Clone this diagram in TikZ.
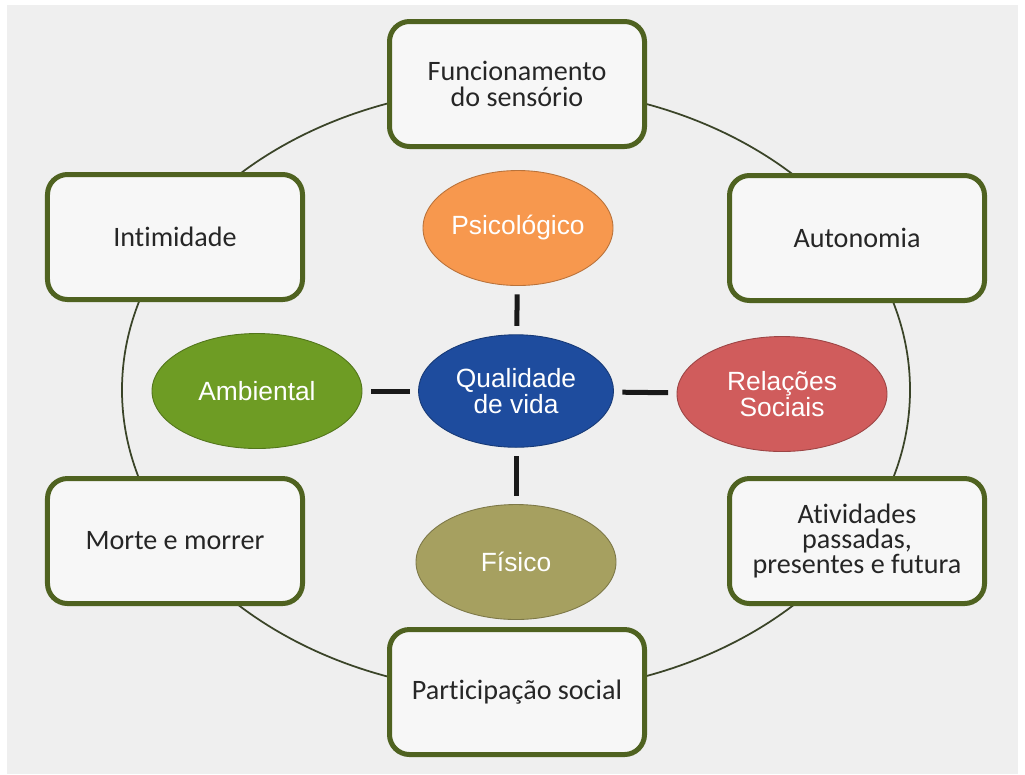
\documentclass[tikz,border=0pt]{standalone}
\usepackage{fontspec}
\setmainfont{Carlito}[Ligatures = NoCommon]
\newfontfamily\arialfont{Liberation Sans}
\usepackage{tikz}

\definecolor{fundo}{RGB}{239,239,239}
\definecolor{verdeborda}{RGB}{79,98,32}
\definecolor{caixafundo}{RGB}{247,247,247}
\definecolor{anel}{RGB}{58,68,40}
\definecolor{laranja}{RGB}{247,152,78}
\definecolor{azulqv}{RGB}{30,76,158}
\definecolor{verdeamb}{RGB}{110,156,36}
\definecolor{vermelho}{RGB}{208,92,92}
\definecolor{caqui}{RGB}{166,160,96}

\tikzset{
  caixa/.style = {draw = verdeborda, fill = caixafundo, line width = 1mm,
    rounded corners = 4mm, minimum width = 51mm, minimum height = 25mm,
    align = center, text = black!85, font = \fontsize{16}{14.5}\selectfont},
  bola/.style = {ellipse, draw = #1!75!black, fill = #1, line width = 0.5pt,
    inner sep = 0pt, minimum width = 40mm, minimum height = 23mm,
    align = center, text = white, font = \arialfont\fontsize{15}{12.5}\selectfont},
  elo/.style = {line width = 1mm, black!90, shorten <= 1.7mm, shorten >= 1.7mm}
}
\usetikzlibrary{shapes.geometric}

\begin{document}
\begin{tikzpicture}[x = 0.2mm, y = -0.2mm]
        \useasboundingbox (0,0) rectangle (1025,774);
        \fill[white] (0,0) rectangle (1025,774);
        \fill[fundo] (7,5) rectangle (1018,774);

        \draw[anel, line width = 0.35mm] (516,390) ellipse [x radius = 394, y radius = 303];

        \node[caixa] (funcionamento) at (517,84) {Funcionamento\\do sensório};
        \node[caixa] (intimidade) at (175,237) {Intimidade};
        \node[caixa] (autonomia) at (857,238) {Autonomia};
        \node[caixa] (morte) at (175,541) {Morte e morrer};
        \node[caixa] (atividades) at (857,541) {Atividades\\passadas,\\presentes e futura};
        \node[caixa] (participacao) at (517,692) {Participação social};

        \node[bola = laranja, minimum width = 38mm] (psico) at (518,228) {Psicológico};
        \node[bola = azulqv, minimum width = 39mm, minimum height = 22.5mm] (qv) at (516,391) {Qualidade\\de vida};
        \node[bola = verdeamb, minimum width = 42mm] (ambiental) at (257,391) {Ambiental};
        \node[bola = vermelho, minimum width = 42mm] (relacoes) at (782,394) {Relações\\Sociais};
        \node[bola = caqui] (fisico) at (516,562) {Físico};

        \draw[elo] (psico) -- (qv);
        \draw[elo] (qv) -- (fisico);
        \draw[elo] (ambiental) -- (qv);
        \draw[elo] (qv) -- (relacoes);
    \end{tikzpicture}
\end{document}
